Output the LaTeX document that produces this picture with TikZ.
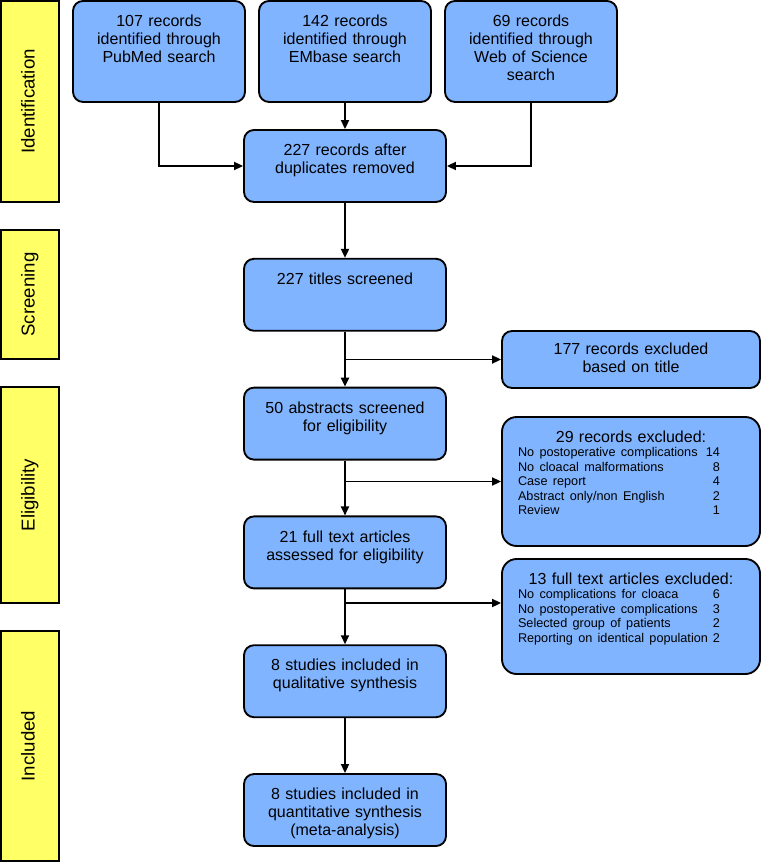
\documentclass[tikz,border=0pt]{standalone}
\usepackage{fontspec}
\setmainfont{Liberation Sans}
\usepackage{tikz}
\usetikzlibrary{arrows.meta}
\definecolor{boxblue}{RGB}{128,180,255}
\definecolor{stageyellow}{RGB}{255,255,102}
\newcommand{\boxfont}{\fontsize{12pt}{13.5pt}\selectfont}
\newcommand{\listfont}{\fontsize{12pt}{10.9pt}\selectfont}
\newcommand{\rowfont}{\fontsize{9.5pt}{10.9pt}\selectfont}
\newcommand{\stagefont}{\fontsize{14pt}{16pt}\selectfont}
\newcommand{\exrow}[2]{\leavevmode\hbox to 169.5pt{\rowfont #1\hfill #2\kern18pt}}
\tikzset{%
        >={Triangle[length=6.75pt,width=6pt]},
        x=0.75pt,
        y=-0.75pt,
        node distance=96.6pt
}
\tikzstyle{flowbox}=[
    draw = black,
    fill = boxblue,
    line width = 1.4pt,
    rounded corners = 7.5pt,
    inner sep = 0pt,
    align = center,
    font = \boxfont,
    text height = 19.3pt
]
\tikzstyle{topbox}=[flowbox, text width = 129pt, text depth = 56.45pt]
\tikzstyle{mainbox}=[flowbox, text width = 151.5pt, text depth = 34.7pt]
\tikzstyle{exbox}=[flowbox, text width = 193.5pt, rounded corners = 11pt, font = \listfont, text height = 18.75pt]
\tikzstyle{stagebox}=[
    draw = black,
    fill = stageyellow,
    line width = 1.4pt,
    rotate = 90,
    minimum height = 43.5pt,
    inner sep = 0pt,
    font = \stagefont,
    text height = 10.5pt,
    text depth = 3.5pt
]
\tikzstyle{every edge}=[
    draw = black,
    line width = 1.4pt,
    ->
]
\begin{document}
\begin{tikzpicture}
        \useasboundingbox (0,0) rectangle (761,862);
        \node[stagebox, minimum width=150.75pt] (s1) at (30,101.5) {Identification};
        \node[stagebox, minimum width=96.75pt] (s2) at (30,294.5) {Screening};
        \node[stagebox, minimum width=162pt] (s3) at (30,495) {Eligibility};
        \node[stagebox, minimum width=172.5pt] (s4) at (30,746) {Included};

        \node[mainbox] (4) at (345,166) {227 records after\\duplicates removed};
        \node[topbox] (2) [above of=4, node distance=85.9pt] {142 records\\identified through\\EMbase search};
        \node[topbox] (1) [left of=2, node distance=139.5pt] {107 records\\identified through\\PubMed search};
        \node[topbox] (3) [right of=2, node distance=139.5pt] {69 records\\identified through\\Web of Science\\search};
        \node[mainbox] (5) [below of=4] {227 titles screened};
        \node[mainbox] (6) [below of=5] {50 abstracts screened\\for eligibility};
        \node[mainbox] (7) [below of=6] {21 full text articles\\assessed for eligibility};
        \node[mainbox] (8) [below of=7] {8 studies included in\\qualitative synthesis};
        \node[mainbox] (9) [below of=8] {8 studies included in\\quantitative synthesis\\(meta-analysis)};

        \node[flowbox, text width=193.5pt, text height=17.25pt, text depth=25.5pt] (x1) at (631,359.5) {177 records excluded\\based on title};
        \node[exbox, text depth=78pt] (x2) at (631,481.5) {29 records excluded:\\
            \exrow{No postoperative complications}{14}\\
            \exrow{No cloacal malformations}{8}\\
            \exrow{Case report}{4}\\
            \exrow{Abstract only/non English}{2}\\
            \exrow{Review}{1}};
        \node[exbox, text depth=67.5pt] (x3) at (631,616.5) {13 full text articles excluded:\\
            \exrow{No complications for cloaca}{6}\\
            \exrow{No postoperative complications}{3}\\
            \exrow{Selected group of patients}{2}\\
            \exrow{Reporting on identical population}{2}};
        \coordinate (b3) at (345,603);

        \draw[->, line width=1.4pt] (1) |- (4);
        \draw[->, line width=1.4pt] (3) |- (4);
      \path
      (2) edge (4)
      (4) edge (5)
      (5) edge (6)
      (6) edge (7)
      (7) edge (8)
      (8) edge (9)
      (5.south |- x1) edge (x1)
      (6.south |- x2) edge (x2)
      (b3) edge (b3 -| x3.west)
      ;
    \end{tikzpicture}
\end{document}
